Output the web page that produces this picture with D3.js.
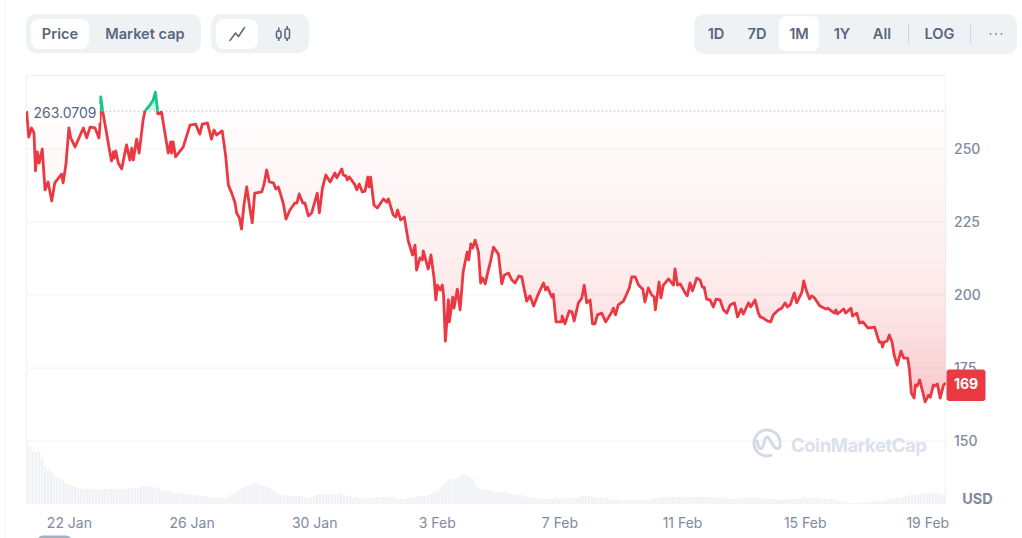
<!DOCTYPE html>
<html><head><meta charset="utf-8"><title>Price chart</title>
<script src="https://d3js.org/d3.v7.min.js"></script>
<style>html,body{margin:0;padding:0;background:#fff;overflow:hidden}svg{display:block}text{font-family:Inter,"Noto Sans",sans-serif}</style>
</head><body><svg id="c" width="1022" height="538"></svg>
<script>
const tickDays=[0,4,8,12,16,20,24,28];
const tickLabels=["22 Jan","26 Jan","30 Jan","3 Feb","7 Feb","11 Feb","15 Feb","19 Feb"];
const priceTicks=[150,175,200,225,250];
const basePrice=263.0709, lastPrice=169;
const rangeTabs=["1D","7D","1M","1Y","All"];
// days after 22 Jan
const days=[-1.38,-1.31,-1.22,-1.14,-1.09,-1.03,-0.97,-0.87,-0.78,-0.68,-0.56,-0.46,-0.24,-0.19,-0.10,0,0.06,0.20,0.47,0.58,0.69,0.85,0.98,1.01,1.04,1.10,1.21,1.34,1.39,1.45,1.48,1.53,1.61,1.72,1.88,1.99,2.05,2.10,2.21,2.29,2.42,2.48,2.64,2.75,2.82,2.88,2.90,3.02,3.10,3.24,3.32,3.35,3.40,3.48,3.73,3.95,4.13,4.27,4.35,4.52,4.65,4.73,4.82,5.00,5.11,5.20,5.31,5.42,5.47,5.56,5.63,5.71,5.80,5.91,5.98,6.06,6.29,6.36,6.45,6.54,6.67,6.75,6.83,6.99,7.08,7.21,7.37,7.44,7.51,7.63,7.70,7.81,7.92,8.10,8.17,8.27,8.38,8.52,8.68,8.74,8.90,8.95,9.04,9.08,9.15,9.33,9.39,9.47,9.57,9.66,9.75,9.79,9.84,9.95,10.06,10.26,10.37,10.42,10.58,10.66,10.72,10.82,10.94,11.07,11.21,11.29,11.34,11.45,11.53,11.56,11.72,11.81,11.91,11.97,12.02,12.11,12.18,12.22,12.28,12.38,12.41,12.52,12.56,12.67,12.76,12.86,12.99,13.04,13.11,13.17,13.25,13.36,13.43,13.49,13.58,13.68,13.74,13.85,14.01,14.12,14.20,14.34,14.45,14.55,14.68,14.77,14.93,15.04,15.16,15.31,15.48,15.55,15.61,15.75,15.80,15.89,16.07,16.09,16.18,16.32,16.41,16.48,16.62,16.73,16.81,16.89,17.00,17.08,17.16,17.24,17.38,17.51,17.71,17.76,17.83,17.92,18.09,18.28,18.36,18.47,18.58,18.72,18.79,18.90,19.01,19.09,19.13,19.25,19.31,19.39,19.56,19.72,19.77,19.85,19.94,20.10,20.17,20.26,20.34,20.48,20.59,20.66,20.72,20.80,20.91,21.02,21.11,21.24,21.35,21.46,21.57,21.71,21.81,21.93,22.00,22.17,22.24,22.38,22.49,22.55,22.65,22.78,22.89,22.98,23.14,23.25,23.36,23.44,23.53,23.66,23.74,23.91,23.97,24.07,24.16,24.23,24.32,24.50,24.69,24.75,24.97,25.02,25.07,25.27,25.34,25.51,25.56,25.70,25.79,25.90,26.06,26.28,26.43,26.50,26.54,26.59,26.69,26.76,26.85,26.92,27.02,27.14,27.23,27.36,27.42,27.48,27.57,27.61,27.67,27.75,27.85,27.93,28.04,28.10,28.20,28.26,28.33,28.42,28.53,28.60];
const prices=[263.0,254.1,257.2,255.5,242.5,249.0,245.2,250.0,236.0,238.7,232.2,238.4,241.4,238.4,244.5,257.2,253.8,250.7,257.2,253.8,257.5,257.2,253.8,257.5,267.8,263.0,256.5,248.6,245.9,249.0,246.9,249.3,245.2,243.2,251.4,246.2,250.3,246.2,253.4,248.6,259.9,263.0,265.0,266.8,269.5,264.4,262.0,262.7,257.5,248.6,252.4,248.6,252.4,247.3,250.7,258.2,258.5,255.1,258.5,258.9,253.4,256.5,254.8,256.2,247.9,237.7,234.9,231.5,228.1,226.4,222.6,230.8,237.0,229.1,224.7,234.9,235.3,237.7,242.8,238.7,238.4,236.3,237.0,231.5,226.0,229.1,231.5,231.5,234.6,231.5,231.5,227.1,228.1,234.9,228.1,236.6,241.1,238.7,241.8,240.1,243.2,241.1,240.7,239.4,240.4,237.7,236.0,238.0,235.3,235.6,240.4,237.0,240.4,230.8,229.8,232.9,231.8,232.9,227.4,226.7,229.1,225.7,226.7,218.5,213.7,217.1,208.5,212.7,212.0,215.1,208.9,213.7,205.8,198.3,203.4,201.7,203.4,200.0,184.2,198.3,190.8,199.3,195.5,202.0,194.9,207.9,214.7,212.0,217.5,216.1,218.8,214.7,204.1,205.8,203.8,208.5,210.9,216.4,214.0,203.8,206.8,207.5,205.1,204.1,206.5,206.2,197.9,199.7,196.2,200.3,204.1,201.7,202.7,199.3,200.3,190.8,190.8,192.8,190.1,194.5,194.2,191.1,197.3,199.0,203.4,197.3,198.3,190.1,190.1,193.2,193.8,190.8,194.2,195.5,193.2,196.6,197.9,202.4,206.2,206.2,203.4,202.0,197.6,202.4,200.0,199.3,194.9,204.5,199.0,203.4,205.5,203.4,208.9,203.4,203.8,200.7,199.7,204.1,201.4,205.8,205.1,202.7,202.7,198.6,198.3,195.9,198.6,198.3,194.9,193.8,196.6,197.3,192.5,195.2,193.5,197.3,195.9,198.3,193.8,192.5,192.1,191.1,190.8,193.2,194.9,195.5,197.3,195.9,196.6,200.7,197.3,201.0,204.8,201.0,198.6,199.7,199.0,196.2,195.2,195.5,193.8,194.9,193.5,195.2,193.8,195.5,192.8,193.8,190.4,190.8,188.7,189.0,183.9,183.9,182.2,183.9,184.2,186.3,183.9,179.4,176.0,180.8,178.4,178.4,174.3,166.4,164.7,169.2,168.8,170.9,166.8,163.4,165.7,165.0,169.2,168.8,169.5,164.7,169.2,169.9];
// relative traded volume, evenly spaced over the period
const volumes=[61,57,52,52,53,46,38,34,32,29,27,25,24,20,19,18,17,16,15.5,15,15,15,15,15,14,15,15,15,15,15,15,15,15,15.5,16,16,16,16,17,18,18,18,17,16,15,14,13,13,13,12,11,11,10,10,10,10,9,9,8.5,8,8,7,6.5,6.5,6.5,6,5.5,7,9,10,12,14,16,18,19,20,21,20,19,18,17,16,14,12,10,9,9,8,8,8,8,8,8,7,6,6,8,9,10,10,10,10,10,10,11,11,9,8,8,7,7,6,5.5,6,6,6,6,7,7,7,7,7,7,6,5,5,5,5,6,6,7,8,8,8,9,10,12,13,15,18,22,24,25,25,26,28,30,29,28,25,18,16,15,15,14,14,12,12,12,12,12,11,10,10,9,9,9,7.5,6.5,6,6,5,5,5,5,5,5,6,5,6,6,6,6,6,6,7.5,8,8,8,7,7,6,6,6,6,5,4,4,4,3,3,4,4,4,4,4,4,4,4,5,6,6,7,7,7,7,7,7,7,7,7,7,7,7,7,7,7,7,7,7,7,6.5,6,6,5,5,5,5,6,6.5,6.5,6.5,6.5,6.5,6.5,6,6,6,5,5,5,4.5,4,4.5,5,5,5,5,5,5.5,6,6,6,6,6,6,5,5,5,5,4,3,2.5,2,1.5,1,1,1,1.5,1.5,1.5,1.5,2,2,3,3,3,3.5,4,5,5.5,6,6,7,8,9,9,9.5,10,10,10,11,11,11,11,11,10,9];

const RED="#ea3943",GREEN="#16c784",GRID="#eff2f5",AXIS="#808a9d",DARK="#58667e";
const svg=d3.select("#c");
const L=26,R=946,T=76,B=504;
const x=d3.scaleLinear().domain([-1.40,28.61]).range([L,R]);
const y=d3.scaleLinear().domain([150,250]).range([441,149]);
const yBase=y(basePrice);
const vx=d3.scaleBand().domain(d3.range(volumes.length)).range([L,R]).paddingInner(0.18);
const vy=d3.scaleLinear().domain([0,61]).range([B,443]);
const pts=days.map((d,i)=>[d,prices[i]]);
const defs=svg.append("defs");
const gr=defs.append("linearGradient").attr("id","redFill").attr("gradientUnits","userSpaceOnUse").attr("x1",0).attr("x2",0).attr("y1",yBase).attr("y2",400);
gr.append("stop").attr("offset",0).attr("stop-color",RED).attr("stop-opacity",0.01);
gr.append("stop").attr("offset",0.5).attr("stop-color",RED).attr("stop-opacity",0.08);
gr.append("stop").attr("offset",0.75).attr("stop-color",RED).attr("stop-opacity",0.15);
gr.append("stop").attr("offset",1).attr("stop-color",RED).attr("stop-opacity",0.28);
defs.append("clipPath").attr("id","above").append("rect").attr("x",L).attr("y",0).attr("width",R-L).attr("height",yBase);
defs.append("clipPath").attr("id","below").append("rect").attr("x",L).attr("y",yBase).attr("width",R-L).attr("height",538-yBase);

// page card edge
svg.append("line").attr("x1",5.5).attr("x2",5.5).attr("y1",0).attr("y2",538).attr("stroke","#f4f6f8");
// frame
svg.append("path").attr("d",`M${L+.5},${B}V${T-.5}H${R-.5}V${B}`).attr("fill","none").attr("stroke",GRID);
// grid
svg.append("g").selectAll("line").data(priceTicks).join("line").attr("x1",L).attr("x2",R).attr("y1",d=>y(d)).attr("y2",d=>y(d)).attr("stroke",GRID);
// volume
svg.append("g").selectAll("rect").data(volumes).join("rect").attr("x",(d,i)=>vx(i)).attr("width",vx.bandwidth()).attr("y",d=>vy(d)).attr("height",d=>B-vy(d)).attr("fill","#f0f2f5");
// watermark
const wm=svg.append("g");
wm.append("path").attr("d","M771,455.3A13,13 0 1 1 780,443V446C780,450 775,449 773,445L769.5,439C768,436 766,436.5 765,439.5L763,446C762,449 759.5,449.5 758.5,446.5L757,441").attr("fill","none").attr("stroke","#d3dbe7").attr("stroke-width",3).attr("stroke-linecap","round");
wm.append("text").attr("x",791).attr("y",452).attr("font-size",18.5).attr("font-weight",700).attr("fill","#dbe1ea").attr("textLength",136).text("CoinMarketCap");
// area + line
const area=d3.area().x(d=>x(d[0])).y0(yBase).y1(d=>y(d[1])).curve(d3.curveLinear);
const line=d3.line().x(d=>x(d[0])).y(d=>y(d[1])).curve(d3.curveLinear);
svg.append("path").attr("d",area(pts)).attr("fill","url(#redFill)").attr("clip-path","url(#below)");
svg.append("path").attr("d",area(pts)).attr("fill",GREEN).attr("fill-opacity",0.22).attr("clip-path","url(#above)");
svg.append("path").attr("d",line(pts)).attr("fill","none").attr("stroke",RED).attr("stroke-width",2.8).attr("stroke-linejoin","round").attr("clip-path","url(#below)");
svg.append("path").attr("d",line(pts)).attr("fill","none").attr("stroke",GREEN).attr("stroke-width",2.8).attr("stroke-linejoin","round").attr("clip-path","url(#above)");
// base line + label
svg.append("line").attr("x1",L).attr("x2",R).attr("y1",yBase+.5).attr("y2",yBase+.5).attr("stroke","#a6b0c3").attr("stroke-width",1).attr("stroke-dasharray","1 3");
svg.append("rect").attr("x",29).attr("y",yBase-7).attr("width",71).attr("height",19).attr("fill","#fff").attr("fill-opacity",0.85);
svg.append("text").attr("x",33.5).attr("y",yBase+7.5).attr("font-size",14).attr("fill",DARK).text(basePrice.toFixed(4));
// y axis
const yAxis=d3.axisRight(y).tickValues(priceTicks).tickSize(0).tickPadding(0);
const ya=svg.append("g").attr("transform",`translate(954,0)`).call(yAxis);
ya.select(".domain").remove();
ya.selectAll("text").attr("font-size",14).attr("font-weight",500).attr("fill",AXIS).attr("font-family","Inter");
// x axis
const xAxis=d3.axisBottom(x).tickValues(tickDays).tickFormat((d,i)=>tickLabels[i]).tickSize(0).tickPadding(0);
const xa=svg.append("g").attr("transform","translate(0,518)").call(xAxis);
xa.select(".domain").remove();
xa.selectAll("text").attr("font-size",14).attr("fill",AXIS).attr("font-family","Inter");
svg.append("text").attr("x",977.5).attr("y",503.5).attr("text-anchor","middle").attr("font-size",14.5).attr("font-weight",700).attr("fill",AXIS).text("USD");
// last price badge
svg.append("rect").attr("x",946.5).attr("y",y(lastPrice)-16).attr("width",39).attr("height",31.5).attr("rx",3).attr("fill",RED);
svg.append("text").attr("x",966).attr("y",y(lastPrice)+3.5).attr("text-anchor","middle").attr("font-size",14).attr("font-weight",700).attr("fill","#fff").text(lastPrice);

// controls
function pill(x0,y0,w,h,r,f){svg.append("rect").attr("x",x0).attr("y",y0).attr("width",w).attr("height",h).attr("rx",r).attr("fill",f);}
function label(t,cx,cy,w,s){svg.append("text").attr("x",cx).attr("y",cy).attr("text-anchor","middle").attr("font-size",s||14.6).attr("font-weight",w||600).attr("fill",DARK).text(t);}
pill(26,14,175,39,10,"#eff2f5");pill(31,19,58,30,8,"#fff");
label("Price",60,38.5);label("Market cap",145,38.5);
pill(211,14,98,39,10,"#eff2f5");pill(216,19,42,30,8,"#fff");
svg.append("path").attr("d","M230,40.5L235.5,33L238.5,36.5L244.5,27.5").attr("fill","none").attr("stroke",DARK).attr("stroke-width",1.5).attr("stroke-linecap","round").attr("stroke-linejoin","round");
const cd=svg.append("g").attr("fill","none").attr("stroke",DARK).attr("stroke-width",1.5);
cd.append("rect").attr("x",276.5).attr("y",31).attr("width",4.5).attr("height",7).attr("rx",1.5);
cd.append("rect").attr("x",285).attr("y",29).attr("width",4.5).attr("height",9.5).attr("rx",1.5);
cd.append("path").attr("d","M278.8,27.5V31M278.8,38V41M287.2,26V29M287.2,38.5V41");
pill(694,14,323,40,10,"#eff2f5");pill(779,16,40,35,7,"#fff");
const tabX=[716,757,799,842,882];
rangeTabs.forEach((t,i)=>label(t,tabX[i],38.5));
label("LOG",939.5,39);
svg.append("g").selectAll("line").data([908.5,970.5]).join("line").attr("x1",d=>d).attr("x2",d=>d).attr("y1",24).attr("y2",44).attr("stroke","#cfd6e4");
svg.append("g").selectAll("circle").data([990.5,996,1001.5]).join("circle").attr("cx",d=>d).attr("cy",34).attr("r",1).attr("fill",AXIS);
// scrollbar remnant at bottom
svg.append("rect").attr("x",37).attr("y",535.5).attr("width",35).attr("height",12).attr("rx",6).attr("fill","#a6b0c3");
</script></body></html>
